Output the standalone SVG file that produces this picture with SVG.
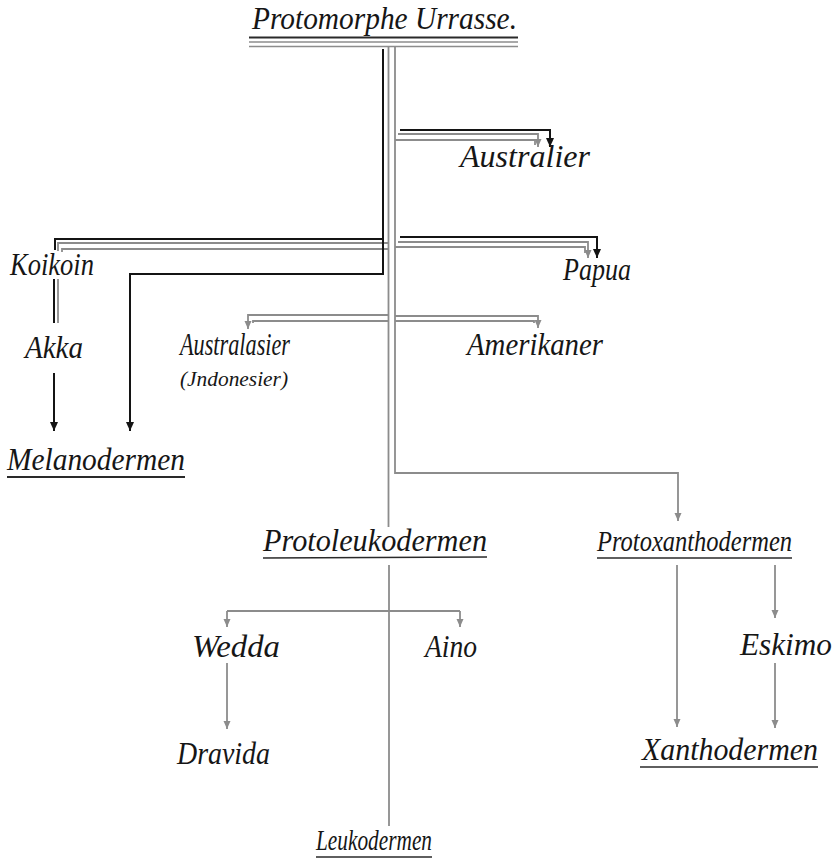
<svg xmlns="http://www.w3.org/2000/svg" width="839" height="862" viewBox="0 0 839 862">
<style>
.t{font-family:"Liberation Serif","DejaVu Serif",serif;font-style:italic;font-size:32px;fill:#161616}
.s{font-size:20px}
.m{font-size:29px}
.l{font-size:30px}
.k{fill:none;stroke:#141414;stroke-width:2}
.g{fill:none;stroke:#8c8c8c;stroke-width:1.8}
.ul{stroke:#2a2a2a;stroke-width:1.6}
.ulg{stroke:#8c8c8c;stroke-width:1.5}
.ak{marker-end:url(#ak)}
.ag{marker-end:url(#ag)}
</style>
<defs>
<marker id="ak" markerUnits="userSpaceOnUse" markerWidth="10" markerHeight="10" refX="9" refY="4" orient="auto"><path d="M0,0 L9,4 L0,8 z" fill="#141414"/></marker>
<marker id="ag" markerUnits="userSpaceOnUse" markerWidth="10" markerHeight="10" refX="8" refY="3.5" orient="auto"><path d="M0,0 L8,3.5 L0,7 z" fill="#8c8c8c"/></marker>
</defs>
<rect width="839" height="862" fill="#ffffff"/>
<g id="connectors">
<path class="g" d="M388.5,46 V527"/>
<path class="g ag" d="M395,46 V473 H678 V521"/>
<path class="g ag" d="M398,134 H538 V147"/>
<path class="g" d="M395,140 H535 V145"/>
<path class="g ag" d="M398,242 H588 V258"/>
<path class="g" d="M395,247 H585 V253"/>
<path class="g" d="M388,243 H58 V251"/>
<path class="g" d="M388,249 H62 V252"/>
<path class="g" d="M58,279 V323"/>
<path class="g ag" d="M388,315 H248 V329"/>
<path class="g" d="M388,321 H253 V323"/>
<path class="g ag" d="M395,316 H538 V328"/>
<path class="g" d="M395,321 H534 V323"/>
<path class="g" d="M389,565 V826"/>
<path class="g" d="M227,611 H460"/>
<path class="g ag" d="M227,611 V627"/>
<path class="g ag" d="M460,611 V627"/>
<path class="g ag" d="M227,663 V729"/>
<path class="g ag" d="M677,565 V727"/>
<path class="g ag" d="M775,565 V618"/>
<path class="g ag" d="M775,663 V728"/>
<path class="k ak" d="M383,49 V274 H130 V431"/>
<path class="k" d="M383,239 H55 V250"/>
<path class="k" d="M54,279 V323"/>
<path class="k ak" d="M54,373 V431"/>
<path class="k ak" d="M400,130 H550 V147"/>
<path class="k ak" d="M400,237 H597 V258"/>
</g>
<g id="n-urrasse">
<text class="t" x="252" y="29" textLength="265" lengthAdjust="spacingAndGlyphs">Protomorphe Urrasse.</text>
<line class="ul" x1="249" y1="37.5" x2="518" y2="37.5" style="stroke-width:2"/>
<line class="ulg" x1="249" y1="42" x2="518" y2="42"/>
<line class="ulg" x1="249" y1="46.5" x2="518" y2="46.5"/>
</g>
<g id="n-australier"><text class="t" x="460" y="167" textLength="130" lengthAdjust="spacingAndGlyphs">Australier</text></g>
<g id="n-koikoin"><text class="t" x="10" y="275" textLength="84" lengthAdjust="spacingAndGlyphs">Koikoin</text></g>
<g id="n-papua"><text class="t" x="563" y="280" textLength="68" lengthAdjust="spacingAndGlyphs">Papua</text></g>
<g id="n-akka"><text class="t" x="25" y="358" textLength="58" lengthAdjust="spacingAndGlyphs">Akka</text></g>
<g id="n-australasier">
<text class="t" x="180" y="355" textLength="110" lengthAdjust="spacingAndGlyphs">Australasier</text>
<text class="t s" x="180" y="386" textLength="108" lengthAdjust="spacingAndGlyphs">(Jndonesier)</text>
</g>
<g id="n-amerikaner"><text class="t" x="467" y="355" textLength="136" lengthAdjust="spacingAndGlyphs">Amerikaner</text></g>
<g id="n-melanodermen">
<text class="t" x="7" y="470" textLength="178" lengthAdjust="spacingAndGlyphs">Melanodermen</text>
<line class="ul" x1="7" y1="477" x2="185" y2="477" style="stroke-width:2"/>
</g>
<g id="n-protoleukodermen">
<text class="t" x="263" y="551" textLength="224" lengthAdjust="spacingAndGlyphs">Protoleukodermen</text>
<line class="ul" x1="263" y1="558" x2="487" y2="557"/>
</g>
<g id="n-protoxanthodermen">
<text class="t m" x="597" y="551" textLength="195" lengthAdjust="spacingAndGlyphs">Protoxanthodermen</text>
<line class="ul" x1="597" y1="558" x2="792" y2="558"/>
</g>
<g id="n-wedda"><text class="t" x="192" y="657" textLength="88" lengthAdjust="spacingAndGlyphs">Wedda</text></g>
<g id="n-aino"><text class="t" x="425" y="657" textLength="52" lengthAdjust="spacingAndGlyphs">Aino</text></g>
<g id="n-eskimo"><text class="t" x="740" y="655" textLength="92" lengthAdjust="spacingAndGlyphs">Eskimo</text></g>
<g id="n-dravida"><text class="t" x="177" y="764" textLength="93" lengthAdjust="spacingAndGlyphs">Dravida</text></g>
<g id="n-xanthodermen">
<text class="t" x="642" y="760" textLength="176" lengthAdjust="spacingAndGlyphs">Xanthodermen</text>
<line class="ul" x1="640" y1="767" x2="818" y2="767"/>
</g>
<g id="n-leukodermen">
<text class="t l" x="316" y="850" textLength="116" lengthAdjust="spacingAndGlyphs">Leukodermen</text>
<line class="ul" x1="316" y1="857" x2="432" y2="857"/>
</g>
</svg>
